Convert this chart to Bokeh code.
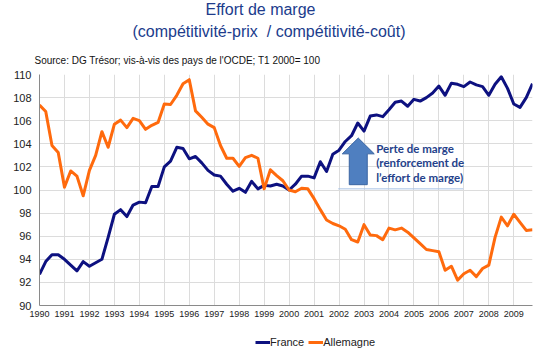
from bokeh.plotting import figure
from bokeh.layouts import column
from bokeh.models import Range1d, FixedTicker, Label, Legend, LegendItem, Title
from bokeh.embed import file_html
from bokeh.resources import INLINE

# ---- data (quarterly, T1 1990 .. T4 2009; index T1 2000 = 100) ----
france = [
    92.7, 93.8, 94.4, 94.4, 94.0, 93.5, 93.0, 93.8, 93.4, 93.7, 94.0, 95.9,
    97.9, 98.3, 97.7, 98.7, 98.95, 98.9, 100.3, 100.3, 102.0, 102.5, 103.7, 103.6,
    102.7, 102.9, 102.35, 101.7, 101.3, 101.2, 100.5, 99.9, 100.15, 99.8, 100.75, 100.1,
    100.4, 100.35, 100.5, 100.35, 100.0, 100.5, 101.2, 101.2, 101.05, 102.45, 101.6, 103.1,
    103.45, 104.2, 104.7, 105.8, 105.1, 106.4, 106.5, 106.35, 106.95, 107.6, 107.7, 107.25,
    107.85, 107.7, 108.0, 108.4, 109.0, 108.2, 109.25, 109.15, 108.95, 109.35, 109.1, 108.95,
    108.2, 109.15, 109.8, 108.8, 107.45, 107.15, 108.0, 109.2,
]
allemagne = [
    107.35, 106.8, 103.85, 103.25, 100.25, 101.65, 101.2, 99.5, 101.7, 103.0, 105.05, 103.7,
    105.7, 106.05, 105.4, 106.2, 106.0, 105.25, 105.6, 105.85, 107.45, 107.4, 108.2, 109.2,
    109.55, 106.85, 106.3, 105.7, 105.4, 103.85, 102.75, 102.75, 102.05, 102.8, 103.0, 102.75,
    100.1, 101.75, 101.25, 100.8, 100.0, 99.85, 100.15, 100.1, 99.25, 98.3, 97.4, 97.1,
    96.9, 96.6, 95.7, 95.5, 97.0, 96.1, 96.05, 95.7, 96.7, 96.55, 96.7, 96.35,
    95.85, 95.35, 94.85, 94.75, 94.65, 93.05, 93.4, 92.2, 92.75, 93.05, 92.5, 93.2,
    93.5, 95.9, 97.65, 96.9, 97.9, 97.2, 96.5, 96.55,
]
first_year = 1990
year_labels = [str(y) for y in range(1990, 2010)]
y_ticks = [90, 92, 94, 96, 98, 100, 102, 104, 106, 108, 110]
series_names = ["France", "Allemagne"]
series_colors = ["#0d1180", "#ff6a0d"]

x = [first_year + i / 4 for i in range(len(france))]

FONT = "Liberation Sans"
TITLE_COLOR = "#203c8c"

p = figure(width=557, height=325, output_backend="svg", toolbar_location=None,
           x_range=Range1d(1990, 1990 + (len(france) - 1) / 4),
           y_range=Range1d(90, 110), title_location=None,
           min_border_left=39, min_border_right=25, min_border_top=73, min_border_bottom=20)
p.outline_line_color = None
p.background_fill_color = "white"

# titles, stacked upward from the frame (first added = nearest the frame)
p.add_layout(Title(text="Source: DG Trésor; vis-à-vis des pays de l'OCDE; T1 2000= 100",
                   text_font=FONT, text_font_size="10px", text_font_style="normal",
                   text_color="#111111", align="left", offset=-5, standoff=18), "above")
p.add_layout(Title(text="(compétitivité-prix\u00a0 / compétitivité-coût)", text_font=FONT,
                   text_font_size="16px", text_font_style="normal", text_color=TITLE_COLOR,
                   align="left", offset=93, standoff=8), "above")
p.add_layout(Title(text="Effort de marge", text_font=FONT,
                   text_font_size="16px", text_font_style="normal", text_color=TITLE_COLOR,
                   align="left", offset=166, standoff=-3), "above")

# axes
p.xaxis.ticker = FixedTicker(ticks=[int(s) for s in year_labels])
p.yaxis.ticker = FixedTicker(ticks=y_ticks)
for ax in (p.xaxis[0], p.yaxis[0]):
    ax.axis_line_color = "#8a8a8a"
    ax.axis_line_width = 1
    ax.major_tick_out = 0
    ax.major_tick_in = 0
    ax.minor_tick_out = 0
    ax.minor_tick_in = 0
    ax.major_label_text_font = FONT
    ax.major_label_text_color = "#222222"
p.xaxis.major_label_text_font_size = "9px"
p.xaxis.major_label_standoff = 5
p.yaxis.major_label_text_font_size = "11px"
p.yaxis.major_label_standoff = 8

p.xgrid.ticker = FixedTicker(ticks=[int(s) for s in year_labels])
p.ygrid.ticker = FixedTicker(ticks=y_ticks)
p.xgrid.grid_line_color = "#dcdcdc"
p.ygrid.grid_line_color = "#dcdcdc"

# series
p.line(x, france, line_color=series_colors[0], line_width=3, line_join="round")
p.line(x, allemagne, line_color=series_colors[1], line_width=3, line_join="round")

# annotation: arrow + text + underline
ax_ = [2002.77, 2003.41, 2003.13, 2003.13, 2002.41, 2002.41, 2002.13]
ay_ = [104.5, 103.13, 103.13, 100.46, 100.46, 103.13, 103.13]
p.patch(ax_, ay_, fill_color="#4f7fc0", line_color="#3b66a3", line_width=1)
p.line([1990 + (338 - 39.3) / 24.96, 1990 + (463 - 39.3) / 24.96], [100.1, 100.1],
       line_color="#a8c2e6", line_width=1)
for txt, yy in [("Perte de marge", 103.56), ("(renforcement de", 102.35), ("l\u2019effort de marge)", 101.06)]:
    p.add_layout(Label(x=2003.49, y=yy, text=txt, text_font="Lato", text_font_style="bold",
                       text_font_size="11.5px", text_color="#24418a",
                       text_align="left", text_baseline="middle"))

# legend strip below the chart (series drawn outside its visible range; only the legend shows)
lg = figure(width=557, height=30, output_backend="svg", toolbar_location=None,
            x_range=Range1d(1990, 2010), y_range=Range1d(0, 1), title_location=None,
            min_border_left=0, min_border_right=0, min_border_top=0, min_border_bottom=0)
lg.axis.visible = False
lg.grid.visible = False
lg.outline_line_color = None
l_fr = lg.line(x, france, line_color=series_colors[0], line_width=3)
l_de = lg.line(x, allemagne, line_color=series_colors[1], line_width=3)
legend = Legend(items=[LegendItem(label=series_names[0], renderers=[l_fr]),
                       LegendItem(label=series_names[1], renderers=[l_de])],
                orientation="horizontal", location=(216, 7),
                label_text_font=FONT, label_text_font_size="11px", label_text_color="#222222",
                glyph_width=15, glyph_height=10, label_height=12, label_standoff=0, spacing=4,
                padding=2, margin=0, border_line_color=None, background_fill_alpha=0)
lg.add_layout(legend)

layout = column(p, lg, spacing=0)
open("out.html", "w").write(file_html(layout, INLINE))
